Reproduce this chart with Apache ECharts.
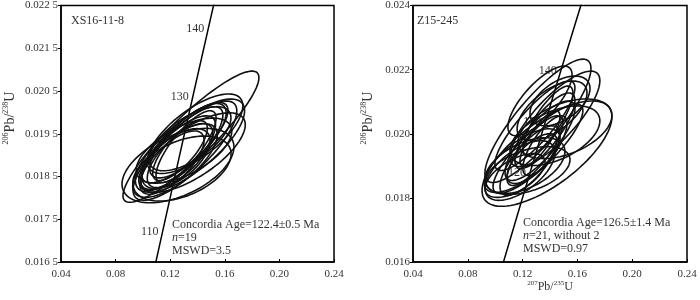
<!DOCTYPE html>
<html>
<head>
<meta charset="utf-8">
<script src="https://cdn.jsdelivr.net/npm/echarts@6/dist/echarts.min.js"></script>
<style>
  html, body { margin: 0; padding: 0; background: #fff; }
  #chart { width: 700px; height: 300px; }
</style>
</head>
<body>
<div id="chart"></div>
<script>
// concordia curve (age in Ma, 207Pb/235U, 206Pb/238U)
const concordiaAges = [100, 110, 120, 130, 140, 150, 160]
const concordiaX = [0.10350, 0.11442, 0.12545, 0.13659, 0.14784, 0.15920, 0.17067]
const concordiaY = [0.015633, 0.017210, 0.018789, 0.020371, 0.021955, 0.023542, 0.025130]
const labelAgesLeft = [110, 130, 140]
const labelAgesRight = [120, 130, 140]

// tick labels
const xTickLabels = ['0.04', '0.08', '0.12', '0.16', '0.20', '0.24']
const yTickLabelsLeft = ['0.016 5', '0.017 5', '0.018 5', '0.019 5', '0.020 5', '0.021 5', '0.022 5']
const yTickLabelsRight = ['0.016', '0.018', '0.020', '0.022', '0.024']

// XS16-11-8 error ellipses: 207/235, half-width, 206/238, half-height, rho
const leftX = [0.1352, 0.1308, 0.1345, 0.1360, 0.1257, 0.1286, 0.1235, 0.1286, 0.1257, 0.1308, 0.1272, 0.1330, 0.1242, 0.1301, 0.1382, 0.1213, 0.1316, 0.1272, 0.1345]
const leftSx = [0.0498, 0.0380, 0.0400, 0.0390, 0.0410, 0.0360, 0.0310, 0.0300, 0.0275, 0.0315, 0.0240, 0.0280, 0.0250, 0.0350, 0.0350, 0.0235, 0.0220, 0.0200, 0.0300]
const leftY = [0.019431, 0.019105, 0.019221, 0.019059, 0.018756, 0.018686, 0.018873, 0.019152, 0.019059, 0.019291, 0.018989, 0.019338, 0.018919, 0.019105, 0.019501, 0.018826, 0.019198, 0.019105, 0.019384]
const leftSy = [0.001535, 0.001160, 0.001090, 0.000930, 0.000870, 0.000760, 0.000860, 0.000980, 0.000860, 0.000940, 0.000750, 0.000870, 0.000700, 0.000760, 0.000930, 0.000740, 0.000840, 0.000700, 0.000750]
const leftRho = [0.9, 0.8, 0.75, 0.7, 0.5, 0.45, 0.7, 0.8, 0.75, 0.8, 0.7, 0.75, 0.6, 0.6, 0.7, 0.7, 0.8, 0.75, 0.65]

// Z15-245 error ellipses
const rightX = [0.1378, 0.1312, 0.1436, 0.1327, 0.1509, 0.1436, 0.1217, 0.1181, 0.1254, 0.1290, 0.1327, 0.1363, 0.1239, 0.1145, 0.1312, 0.1363, 0.1415, 0.1385, 0.1269, 0.1473, 0.1196, 0.1327, 0.1290]
const rightSx = [0.0474, 0.0387, 0.0328, 0.0234, 0.0343, 0.0328, 0.0292, 0.0255, 0.0219, 0.0204, 0.0255, 0.0219, 0.0307, 0.0219, 0.0328, 0.0161, 0.0255, 0.0182, 0.0182, 0.0219, 0.0277, 0.0146, 0.0292]
const rightY = [0.019380, 0.020403, 0.020465, 0.021024, 0.020155, 0.019938, 0.019008, 0.018853, 0.019163, 0.019473, 0.019783, 0.020093, 0.018853, 0.018698, 0.019535, 0.019628, 0.020714, 0.020403, 0.019225, 0.021024, 0.019163, 0.019845, 0.020248]
const rightSy = [0.001644, 0.001923, 0.001488, 0.001085, 0.000930, 0.000930, 0.000868, 0.000930, 0.001085, 0.001085, 0.001240, 0.001178, 0.000744, 0.000682, 0.001395, 0.000930, 0.000930, 0.001085, 0.000775, 0.000775, 0.000992, 0.000868, 0.001395]
const rightRho = [0.7, 0.85, 0.8, 0.75, 0.45, 0.5, 0.5, 0.6, 0.75, 0.8, 0.8, 0.8, 0.45, 0.6, 0.85, 0.75, 0.6, 0.8, 0.7, 0.5, 0.7, 0.8, 0.85]

const serif = '"Liberation Serif", "DejaVu Serif", serif'
const textColor = '#333'

const chart = echarts.init(document.getElementById('chart'))

function ellipseData(xs, sxs, ys, sys, rhos) {
  return xs.map((x, i) => [x, sxs[i], ys[i], sys[i], rhos[i]])
}

// draw one ellipse through the axis scales
function renderEllipse(params, api) {
  const x = api.value(0), sx = api.value(1)
  const y = api.value(2), sy = api.value(3), rho = api.value(4)
  const k = Math.sqrt(1 - rho * rho)
  const points = []
  for (let i = 0; i < 90; i++) {
    const t = (i / 90) * Math.PI * 2
    points.push(api.coord([x + sx * Math.cos(t), y + sy * (rho * Math.cos(t) + k * Math.sin(t))]))
  }
  return {
    type: 'polygon',
    shape: { points },
    style: { fill: 'none', stroke: '#111', lineWidth: 1.6 }
  }
}

function concordiaData(labelAges) {
  return concordiaAges.map((age, i) => ({
    value: [concordiaX[i], concordiaY[i]],
    label: { show: labelAges.includes(age), formatter: String(age) }
  }))
}

function tickFormatter(labels, min, interval) {
  return (v) => labels[Math.round((v - min) / interval)] || ''
}

const xAxisBase = {
  type: 'value',
  min: 0.04,
  max: 0.24,
  interval: 0.04,
  axisLine: { show: true, lineStyle: { color: '#000', width: 1.5 } },
  axisTick: { show: true, inside: true, length: 3, lineStyle: { color: '#000' } },
  axisLabel: { color: textColor, fontFamily: serif, fontSize: 11, margin: 7, formatter: tickFormatter(xTickLabels, 0.04, 0.04) },
  splitLine: { show: false }
}

function yAxisBase(min, max, interval, labels) {
  return {
    type: 'value',
    min, max, interval,
    axisLine: { show: true, lineStyle: { color: '#000', width: 1.5 } },
    axisTick: { show: true, length: 3, lineStyle: { color: '#000' } },
    axisLabel: { color: textColor, fontFamily: serif, fontSize: 11, margin: 3, formatter: tickFormatter(labels, min, interval) },
    splitLine: { show: false }
  }
}

const concordiaStyle = {
  type: 'line',
  symbol: 'circle',
  symbolSize: 0,
  showSymbol: true,
  lineStyle: { color: '#000', width: 1.5 },
  itemStyle: { color: '#000' },
  label: { position: 'left', distance: 4, color: textColor, fontFamily: serif, fontSize: 12 },
  z: 1,
  silent: true
}

const richSup = {
  s: { fontSize: 7, fontFamily: serif, color: textColor, verticalAlign: 'top', lineHeight: 14 },
  m: { fontSize: 12, fontFamily: serif, color: textColor, lineHeight: 14 },
  bs: { fontSize: 8, fontFamily: serif, color: textColor, verticalAlign: 'top', lineHeight: 16 },
  bm: { fontSize: 14, fontFamily: serif, color: textColor, lineHeight: 16 },
  i: { fontSize: 12, fontFamily: serif, color: textColor, fontStyle: 'italic' },
  t: { fontSize: 12, fontFamily: serif, color: textColor }
}

function textEl(x, y, text, opts) {
  return {
    type: 'text',
    x, y,
    style: Object.assign({ text, rich: richSup, fill: textColor, font: '12px ' + serif, verticalAlign: 'middle' }, opts || {})
  }
}

const option = {
  animation: false,
  grid: [
    { left: 61, top: 4, width: 273, height: 258, show: true, borderColor: '#000', borderWidth: 1.5 },
    { left: 413, top: 4, width: 274, height: 258, show: true, borderColor: '#000', borderWidth: 1.5 }
  ],
  xAxis: [
    Object.assign({ gridIndex: 0 }, xAxisBase),
    Object.assign({ gridIndex: 1 }, xAxisBase)
  ],
  yAxis: [
    Object.assign({ gridIndex: 0 }, yAxisBase(0.0165, 0.0225, 0.001, yTickLabelsLeft)),
    Object.assign({ gridIndex: 1 }, yAxisBase(0.016, 0.024, 0.002, yTickLabelsRight))
  ],
  series: [
    Object.assign({ xAxisIndex: 0, yAxisIndex: 0, data: concordiaData(labelAgesLeft) }, concordiaStyle),
    Object.assign({ xAxisIndex: 1, yAxisIndex: 1, data: concordiaData(labelAgesRight) }, concordiaStyle),
    {
      type: 'custom',
      xAxisIndex: 0, yAxisIndex: 0,
      renderItem: renderEllipse,
      encode: { x: 0, y: 2 },
      data: ellipseData(leftX, leftSx, leftY, leftSy, leftRho),
      z: 3,
      silent: true
    },
    {
      type: 'custom',
      xAxisIndex: 1, yAxisIndex: 1,
      renderItem: renderEllipse,
      encode: { x: 0, y: 2 },
      data: ellipseData(rightX, rightSx, rightY, rightSy, rightRho),
      z: 3,
      silent: true
    }
  ],
  graphic: [
    // y axis titles
    Object.assign(textEl(10, 118, '{bs|206}{bm|Pb/}{bs|238}{bm|U}', { align: 'center' }), { rotation: Math.PI / 2 }),
    Object.assign(textEl(368, 118, '{bs|206}{bm|Pb/}{bs|238}{bm|U}', { align: 'center' }), { rotation: Math.PI / 2 }),
    // x axis title (right panel)
    textEl(550, 287, '{s|207}{m|Pb/}{s|235}{m|U}', { align: 'center' }),
    // sample names
    textEl(71, 21, 'XS16-11-8'),
    textEl(417, 21, 'Z15-245'),
    // age results
    textEl(172, 225, '{t|Concordia Age=122.4±0.5 Ma}'),
    textEl(172, 238, '{i|n}{t|=19}'),
    textEl(172, 251, '{t|MSWD=3.5}'),
    textEl(523, 223, '{t|Concordia Age=126.5±1.4 Ma}'),
    textEl(523, 236, '{i|n}{t|=21, without 2}'),
    textEl(523, 249, '{t|MSWD=0.97}')
  ]
}

chart.setOption(option)
</script>
</body>
</html>
